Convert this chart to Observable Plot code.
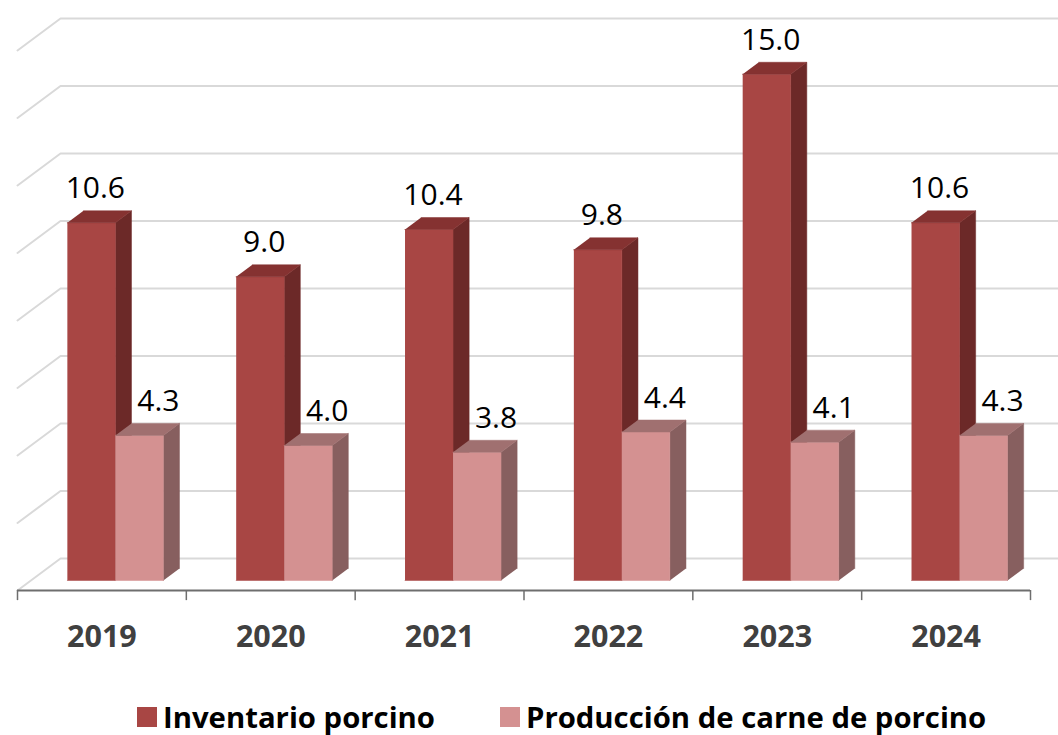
<!DOCTYPE html>
<html><head><meta charset="utf-8">
<script src="https://cdn.jsdelivr.net/npm/d3@7"></script>
<script src="https://cdn.jsdelivr.net/npm/@observablehq/plot@0.6"></script>
<style>
body{margin:0;background:#fff;font-family:"Open Sans",sans-serif;}
#legend{display:flex;align-items:center;height:40px;margin-top:7px;padding-left:137px;font-weight:bold;font-size:29.3px;color:#000;}
.item{display:flex;align-items:center;margin-right:65px;}
.sw{width:20px;height:20px;margin-right:6px;}
</style></head><body>
<div id="chart"></div>
<div id="legend"></div>
<script>
// ---- data ----
const years = ["2019","2020","2021","2022","2023","2024"];
const inventario = [10.6, 9.0, 10.4, 9.8, 15.0, 10.6];
const produccion = [4.3, 4.0, 3.8, 4.4, 4.1, 4.3];
const seriesNames = ["Inventario porcino", "Producción de carne de porcino"];
const gridValues = [0, 2, 4, 6, 8, 10, 12, 14, 16];

// ---- style ----
const frontColors = ["#A84644", "#D49191"];
const topColors = ["#853231", "#A07070"];
const sideColors = ["#6C2928", "#875F5F"];
const labelDx = [4, 19];

// ---- 3D projection (in scale units) ----
const PX_CAT = (1030 - 17) / 6, PX_UNIT = 540 / 16;
const DX = 43 / PX_CAT, DY = 32 / PX_UNIT;   // full floor depth
const D0 = 10 / 32, D1 = 22 / 32;            // bar front/back depth
const W = 48 / PX_CAT;                        // bar width
const P = (x, v, d, key) => ({key, x: x + DX * d, y: v + DY * d});

const series = [inventario, produccion];
const faces = series.map((vals, s) => {
  const side = [], front = [], top = [];
  vals.forEach((v, i) => {
    const xl = i - W + s * W, xr = xl + W, k = years[i];
    front.push(P(xl,0,D0,k), P(xr,0,D0,k), P(xr,v,D0,k), P(xl,v,D0,k));
    top.push(P(xl,v,D0,k), P(xr,v,D0,k), P(xr,v,D1,k), P(xl,v,D1,k));
    side.push(P(xr,0,D0,k), P(xr,v,D0,k), P(xr,v,D1,k), P(xr,0,D1,k));
  });
  return {side, front, top};
});

const grid = [];
gridValues.forEach(v => {
  grid.push(P(-0.5, v, 0, v), P(-0.5, v, 1, v), P(5.5 + DX, v, 1, v));
});

const labels = series.map((vals, s) => vals.map((v, i) => {
  const p = P(i - W / 2 + s * W, v, D0);
  return {x: p.x, y: p.y, text: d3.format(".1f")(v)};
}));

const yearData = years.map((y, i) => ({x: i, y: 0, text: y}));
const tickData = d3.range(7).map(i => ({x: i - 0.5}));

const faceMarks = [];
[0, 1].forEach(s => {
  faceMarks.push(
    Plot.line(faces[s].side, {x: "x", y: "y", z: "key", fill: sideColors[s], stroke: sideColors[s], strokeWidth: 0.5}),
    Plot.line(faces[s].front, {x: "x", y: "y", z: "key", fill: frontColors[s], stroke: frontColors[s], strokeWidth: 0.5}),
    Plot.line(faces[s].top, {x: "x", y: "y", z: "key", fill: topColors[s], stroke: topColors[s], strokeWidth: 0.5})
  );
});

const chart = Plot.plot({
  width: 1058,
  height: 690,
  margin: 0,
  style: {fontFamily: "Open Sans, sans-serif", background: "#fff"},
  x: {type: "linear", domain: [-0.5, 5.5], range: [17, 1030], axis: null},
  y: {type: "linear", domain: [0, 16], range: [590, 50], axis: null},
  marks: [
    Plot.line(grid, {x: "x", y: "y", z: "key", stroke: "#d9d9d9", strokeWidth: 2, clip: true}),
    Plot.ruleY([0], {x1: -0.5, x2: 5.5, stroke: "#6e6e6e", strokeWidth: 2}),
    Plot.ruleX(tickData, {x: "x", y1: 0, y2: -0.3, stroke: "#6e6e6e", strokeWidth: 1.5}),
    ...faceMarks,
    Plot.text(labels[0], {x: "x", y: "y", text: "text", dx: labelDx[0], dy: -34, fontSize: 30, fill: "#000"}),
    Plot.text(labels[1], {x: "x", y: "y", text: "text", dx: labelDx[1], dy: -34, fontSize: 30, fill: "#000"}),
    Plot.text(yearData, {x: "x", y: "y", text: "text", dy: 47, fontSize: 30.5, fontWeight: "bold", fill: "#404040"})
  ]
});
document.getElementById("chart").appendChild(chart);

const lg = document.getElementById("legend");
seriesNames.forEach((n, s) => {
  const it = document.createElement("div"); it.className = "item";
  const sw = document.createElement("div"); sw.className = "sw"; sw.style.background = frontColors[s];
  const t = document.createElement("span"); t.textContent = n;
  it.appendChild(sw); it.appendChild(t); lg.appendChild(it);
});
</script>
</body></html>
